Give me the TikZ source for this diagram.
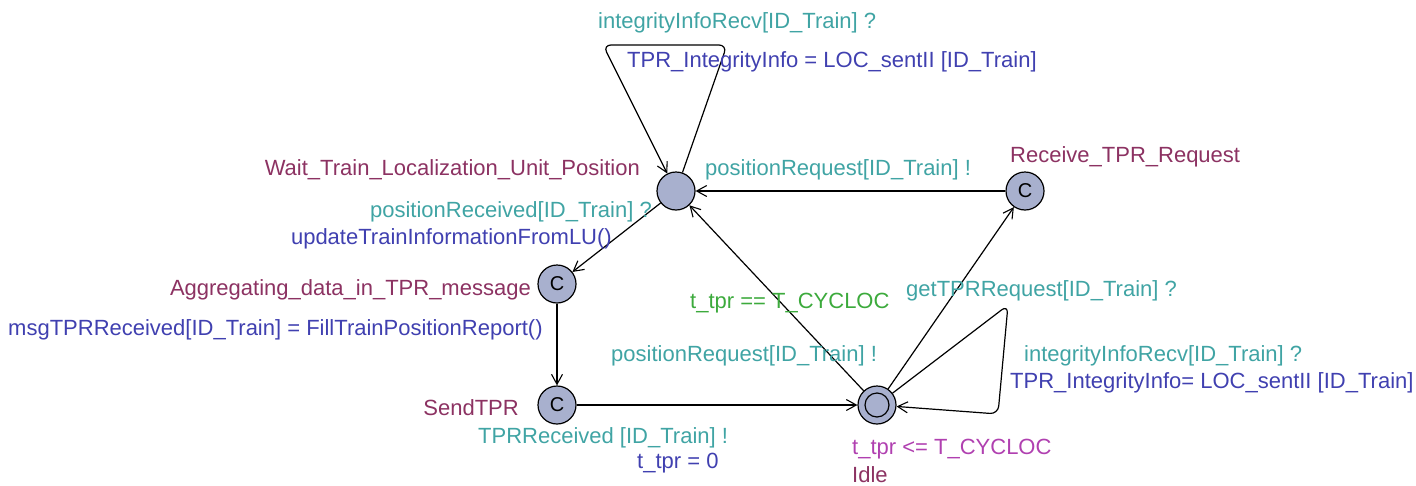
\documentclass[tikz,border=0pt]{standalone}
\usepackage{fontspec}
\setmainfont{Liberation Sans}
\usetikzlibrary{arrows.meta}
\definecolor{locfill}{RGB}{168,176,206}
\definecolor{cname}{RGB}{140,50,98}
\definecolor{csync}{RGB}{64,164,164}
\definecolor{cupd}{RGB}{64,64,176}
\definecolor{cguard}{RGB}{60,170,60}
\definecolor{cinv}{RGB}{176,64,176}
\begin{document}
\begin{tikzpicture}[x=1pt,y=-1pt,
  loc/.style={circle,draw,fill=locfill,minimum size=38pt,inner sep=0pt,line width=1.2pt,font=\fontsize{20}{24}\selectfont},
  lbl/.style={inner sep=0pt,font=\fontsize{22}{26}\selectfont},
  lname/.style={lbl,text=cname},
  lsync/.style={lbl,text=csync},
  lupd/.style={lbl,text=cupd},
  lguard/.style={lbl,text=cguard},
  linv/.style={lbl,text=cinv},
  edge/.style={line width=1.2pt,-{Straight Barb[length=10pt,width=11pt,line width=1.1pt]}}]
\useasboundingbox (0,0) rectangle (1416,485);

% locations
\node[loc] (W) at (676,191) {};
\node[loc] (R) at (1025,191) {C};
\node[loc] (A) at (557,284) {C};
\node[loc] (S) at (557,405) {C};
\node[loc] (I) at (877,405) {};
\draw[line width=1.2pt] (I.center) circle (12pt);

% loop corners
\coordinate (wl1) at (727,45);
\coordinate (wl2) at (603,45);
\coordinate (il1) at (1008,305);
\coordinate (il2) at (998,414);

% edges
\draw[edge,rounded corners=8pt] (W) -- (wl1) -- (wl2) -- (W);
\draw[edge] (R) -- (W);
\draw[edge] (W) -- (A);
\draw[edge] (A) -- (S);
\draw[edge] (S) -- (I);
\draw[edge] (I) -- (W);
\draw[edge] (I) -- (R);
\draw[edge,rounded corners=8pt] (I) -- (il1) -- (il2) -- (I);

% location names
\node[lname,anchor=base east] (nW) at (640,175) {Wait\_Train\_Localization\_Unit\_Position};
\node[lname,anchor=base west] (nR) at (1010,162) {Receive\_TPR\_Request};
\node[lname,anchor=base east] (nA) at (531,295) {Aggregating\_data\_in\_TPR\_message};
\node[lname,anchor=base east] (nS) at (519,415) {SendTPR};
\node[linv,anchor=base west] (iI) at (852,454) {t\_tpr <= T\_CYCLOC};
\node[lname,anchor=base west] (nI) at (852,482) {Idle};

% edge labels
\node[lsync,anchor=base west] (s1) at (598,28) {integrityInfoRecv[ID\_Train] ?};
\node[lupd,anchor=base west] (u1) at (627,67) {TPR\_IntegrityInfo = LOC\_sentII [ID\_Train]};
\node[lsync,anchor=base west] (s2) at (705,175) {positionRequest[ID\_Train] !};
\node[lsync,anchor=base east] (s3) at (652,217) {positionReceived[ID\_Train] ?};
\node[lupd,anchor=base east] (u3) at (612,244) {updateTrainInformationFromLU()};
\node[lupd,anchor=base west] (u4) at (8,335) {msgTPRReceived[ID\_Train] = FillTrainPositionReport()};
\node[lguard,anchor=base west] (g5) at (690,308) {t\_tpr == T\_CYCLOC};
\node[lsync,anchor=base west] (s5) at (611,361) {positionRequest[ID\_Train] !};
\node[lsync,anchor=base west] (s6) at (906,296) {getTPRRequest[ID\_Train] ?};
\node[lsync,anchor=base west] (s7) at (1024,361) {integrityInfoRecv[ID\_Train] ?};
\node[lupd,anchor=base west] (u7) at (1010,388) {TPR\_IntegrityInfo= LOC\_sentII [ID\_Train]};
\node[lsync,anchor=base west] (s8) at (478,443) {TPRReceived [ID\_Train] !};
\node[lupd,anchor=base west] (u8) at (637,468) {t\_tpr = 0};
\end{tikzpicture}
\end{document}
